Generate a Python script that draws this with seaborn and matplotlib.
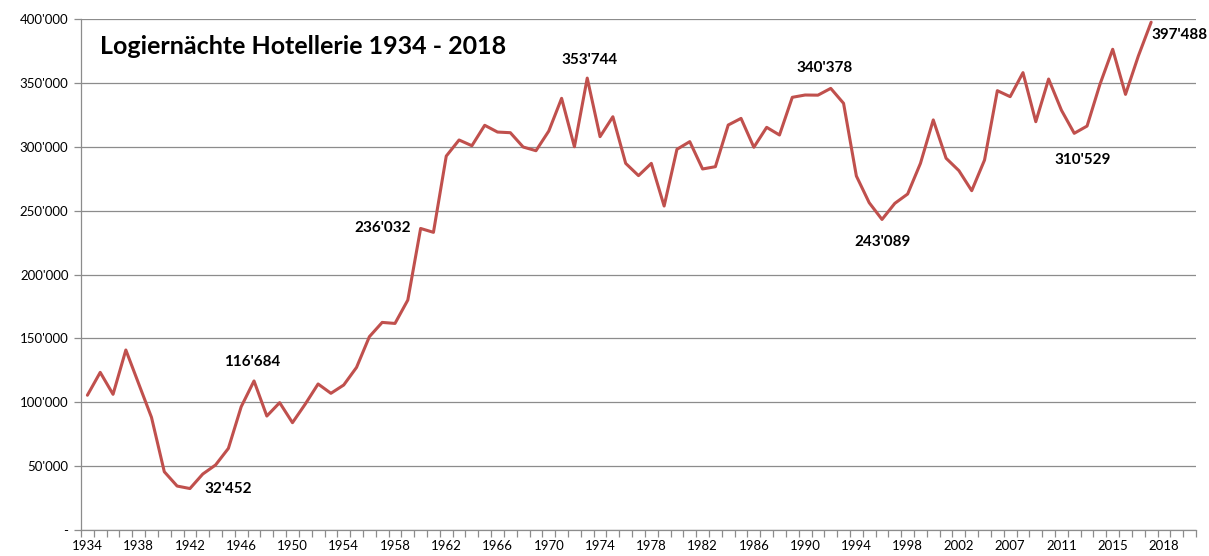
import matplotlib
matplotlib.use("Agg")
import matplotlib.pyplot as plt
import matplotlib.ticker as mticker
import numpy as np
import pandas as pd
import seaborn as sns

# Logiernaechte per category slot
values = [105500, 123400, 106200, 140900, 114500, 88200, 45600, 34400, 32452, 43800,
          50900, 63900, 96500, 116684, 89200, 99700, 84000, 98600, 114300, 107000,
          113500, 127300, 151300, 162500, 161700, 180000, 236032, 233000, 292700, 305300,
          300800, 316800, 311500, 311000, 299800, 296900, 312300, 337900, 300000, 353744,
          307900, 323500, 287000, 277400, 287000, 253600, 298000, 304000, 282600, 284400,
          317000, 322200, 299600, 315200, 309200, 338700, 340500, 340378, 345700, 334000,
          277100, 256200, 243089, 255700, 263000, 287000, 321000, 291000, 281300, 265600,
          289600, 343900, 339200, 358000, 319600, 353000, 328600, 310529, 316200, 348700,
          376300, 341000, 371000, 397488]

x_labels = ["1934", "1938", "1942", "1946", "1950", "1954", "1958", "1962", "1966",
            "1970", "1974", "1978", "1982", "1986", "1990", "1994", "1998", "2002",
            "2007", "2011", "2015", "2018"]
n_slots = 87

# labelled points: (slot index, text, x offset px, y offset px)
notes = [(13, "116'684", -2, 19), (8, "32'452", 38, 0), (26, "236'032", -38, 0),
         (39, "353'744", 2, 18), (57, "340'378", 7, 27), (62, "243'089", 0, -23),
         (77, "310'529", 8, -27), (83, "397'488", 28, -13)]

df = pd.DataFrame({"slot": np.arange(len(values)), "value": values})

sns.set_style("white")
plt.rcParams["font.family"] = ["Lato", "DejaVu Sans"]

fig = plt.figure(figsize=(12.09, 5.56), dpi=100)
ax = fig.add_axes([81 / 1209, 26 / 556, (1196 - 81) / 1209, (530 - 19) / 556])

sns.lineplot(data=df, x="slot", y="value", ax=ax, color="#C0504D", linewidth=2.2)

ax.set_xlim(-0.5, n_slots - 0.5)
ax.set_ylim(0, 400000)
ax.set_yticks(np.arange(0, 400001, 50000))
ax.yaxis.set_major_formatter(mticker.FuncFormatter(
    lambda v, p: "-" if v == 0 else f"{int(v):,}".replace(",", "'")))
ax.yaxis.grid(True, color="#8c8c8c", linewidth=0.9)
ax.set_axisbelow(True)

ax.set_xticks(np.arange(0, 4 * len(x_labels), 4))
ax.set_xticklabels(x_labels)
ax.set_xticks(np.arange(-0.5, n_slots, 1), minor=True)
ax.tick_params(axis="x", which="major", length=0, pad=7, labelsize=9.5, colors="black")
ax.tick_params(axis="x", which="minor", length=5, width=0.9, color="#8c8c8c", direction="out")
ax.tick_params(axis="y", which="major", length=5, width=0.9, color="#8c8c8c",
               direction="out", labelsize=9.5, labelcolor="black", pad=4)
ax.xaxis.set_ticks_position("bottom")
ax.yaxis.set_ticks_position("left")

for side in ["top", "right"]:
    ax.spines[side].set_visible(False)
for side in ["left", "bottom"]:
    ax.spines[side].set_color("#8c8c8c")
    ax.spines[side].set_linewidth(0.9)

ax.set_xlabel("")
ax.set_ylabel("")

for idx, text, dx, dy in notes:
    ax.annotate(text, (idx, values[idx]), xytext=(dx, dy), textcoords="offset pixels",
                ha="center", va="center", fontsize=11, fontweight="bold", color="black")

ax.text(100 / 1209, 1 - 46 / 556, "Logiernächte Hotellerie 1934 - 2018", transform=fig.transFigure,
        ha="left", va="center", fontsize=18, fontweight="bold", color="black")

fig.savefig("out.png", dpi=100)
